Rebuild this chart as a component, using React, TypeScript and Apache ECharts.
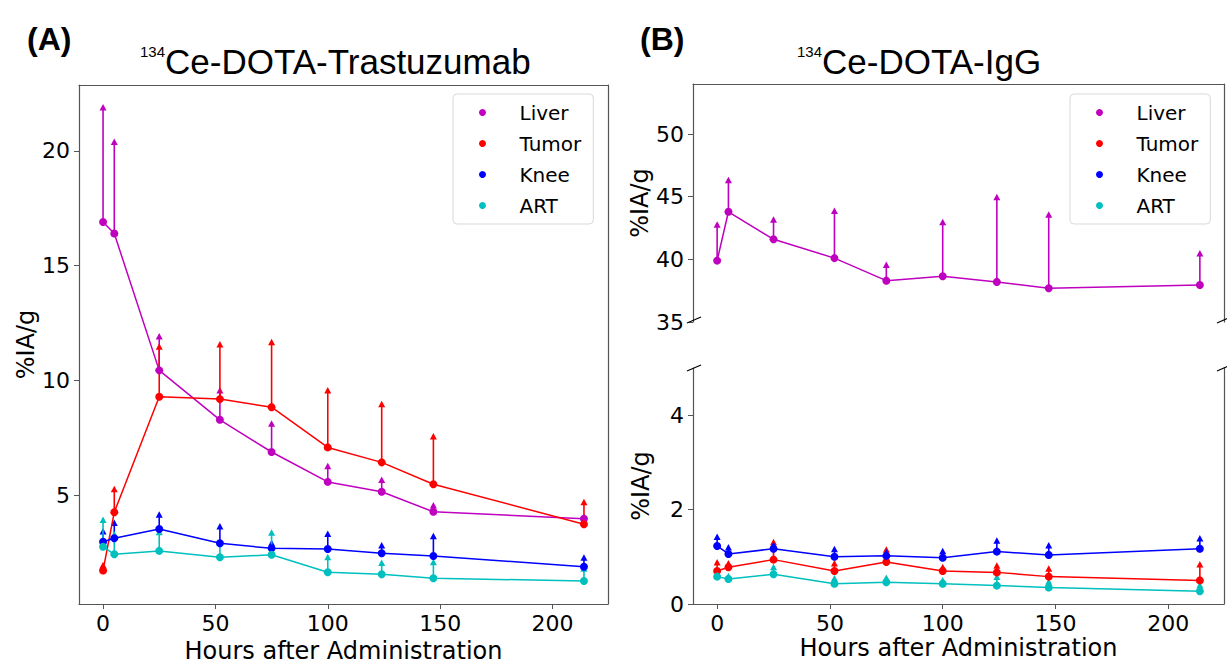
import React, { useEffect, useRef } from "react";
import * as echarts from "echarts";

// ---------- data ----------
const hours = [0, 5, 25, 52, 75, 100, 124, 147, 214];
const organs = ["Liver", "Tumor", "Knee", "ART"];

// (A) 134Ce-DOTA-Trastuzumab  (%IA/g, mean and upper error limit)
const trasLiver = [16.9, 16.4, 10.45, 8.3, 6.9, 5.6, 5.17, 4.3, 4.0];
const trasLiverUp = [21.9, 20.4, 11.95, 9.6, 8.15, 6.3, 5.7, 4.6, 4.1];
const trasTumor = [1.75, 4.28, 9.3, 9.2, 8.85, 7.1, 6.45, 5.5, 3.76];
const trasTumorUp = [2.0, 5.3, 11.5, 11.6, 11.7, 9.6, 9.0, 7.6, 4.74];
const trasKnee = [3.0, 3.15, 3.55, 2.93, 2.71, 2.68, 2.5, 2.38, 1.91];
const trasKneeUp = [3.47, 3.83, 4.19, 3.68, 2.95, 3.36, 2.86, 3.26, 2.32];
const trasArt = [2.78, 2.45, 2.6, 2.32, 2.43, 1.67, 1.58, 1.41, 1.29];
const trasArtUp = [3.97, 3.33, 3.43, 2.96, 3.41, 2.35, 2.09, 2.13, 1.84];

// (B) 134Ce-DOTA-IgG
const iggLiver = [39.9, 43.8, 41.6, 40.1, 38.3, 38.65, 38.2, 37.7, 37.95];
const iggLiverUp = [42.8, 46.35, 43.2, 43.9, 39.6, 43.0, 45.0, 43.6, 40.5];
const iggTumor = [0.7, 0.78, 0.94, 0.7, 0.89, 0.7, 0.67, 0.58, 0.5];
const iggTumorUp = [0.89, 0.87, 1.32, 0.87, 1.16, 0.79, 0.82, 0.76, 0.85];
const iggKnee = [1.23, 1.06, 1.17, 1.0, 1.02, 0.98, 1.11, 1.04, 1.17];
const iggKneeUp = [1.43, 1.21, 1.26, 1.17, 1.1, 1.13, 1.35, 1.25, 1.4];
const iggArt = [0.58, 0.53, 0.63, 0.43, 0.46, 0.43, 0.39, 0.35, 0.27];
const iggArtUp = [0.74, 0.6, 0.79, 0.55, 0.56, 0.51, 0.58, 0.48, 0.41];

// tick labels
const xTicks = [0, 50, 100, 150, 200];
const yTicksA = [5, 10, 15, 20];
const yTicksBUpper = [35, 40, 45, 50];
const yTicksBLower = [0, 2, 4];

// ---------- styling ----------
const COLORS: Record<string, string> = {
  Liver: "#bf00bf",
  Tumor: "#ff0000",
  Knee: "#0000ff",
  ART: "#00bfbf",
};
const FONT = '"DejaVu Sans", sans-serif';
const TFONT = '"Liberation Sans", Arial, sans-serif';
const SPINE = "#555555";

function lineSeries(name: string, ys: number[], xi: number, yi: number) {
  const color = COLORS[name];
  return {
    type: "line",
    name,
    xAxisIndex: xi,
    yAxisIndex: yi,
    data: hours.map((x, i) => [x, ys[i]]),
    symbol: "circle",
    symbolSize: 8,
    showSymbol: true,
    itemStyle: { color },
    lineStyle: { color, width: 1.5 },
    emphasis: { disabled: true },
    silent: true,
    z: 3,
  };
}

function errSeries(name: string, ys: number[], ups: number[], xi: number, yi: number) {
  const color = COLORS[name];
  return {
    type: "custom",
    name: name + " error",
    xAxisIndex: xi,
    yAxisIndex: yi,
    data: hours.map((x, i) => [x, ys[i], ups[i]]),
    encode: { x: 0, y: [1, 2] },
    silent: true,
    z: 3,
    renderItem: (params: any, api: any) => {
      const p0 = api.coord([api.value(0), api.value(1)]);
      const p1 = api.coord([api.value(0), api.value(2)]);
      return {
        type: "group",
        children: [
          {
            type: "line",
            shape: { x1: p0[0], y1: p0[1], x2: p1[0], y2: p1[1] },
            style: { stroke: color, lineWidth: 1.6 },
          },
          {
            type: "polygon",
            shape: {
              points: [
                [p1[0] - 3.5, p1[1] + 3.5],
                [p1[0] + 3.5, p1[1] + 3.5],
                [p1[0], p1[1] - 3],
              ],
            },
            style: { fill: color },
          },
        ],
      };
    },
  };
}

function xAxisMain(gridIndex: number) {
  return {
    type: "value",
    gridIndex,
    min: -10.7,
    max: 224.7,
    name: "Hours after Administration",
    nameLocation: "middle",
    nameGap: 32,
    nameTextStyle: { fontFamily: FONT, fontSize: 24, color: "#000" },
    axisLine: { show: true, onZero: false, lineStyle: { color: SPINE, width: 1.2 } },
    axisTick: { show: true, length: 5, customValues: xTicks, lineStyle: { color: SPINE, width: 1 } },
    axisLabel: { show: true, customValues: xTicks, fontFamily: FONT, fontSize: 22, color: "#000", margin: 8 },
    splitLine: { show: false },
  };
}

function xAxisSpine(gridIndex: number, position: string, showLine: boolean) {
  return {
    type: "value",
    gridIndex,
    position,
    min: -10.7,
    max: 224.7,
    axisLine: { show: showLine, onZero: false, lineStyle: { color: SPINE, width: 1.2 } },
    axisTick: { show: false },
    axisLabel: { show: false },
    splitLine: { show: false },
  };
}

function yAxisMain(gridIndex: number, min: number, max: number, ticks: number[]) {
  return {
    type: "value",
    gridIndex,
    min,
    max,
    name: "%IA/g",
    nameLocation: "middle",
    nameGap: 40,
    nameTextStyle: { fontFamily: FONT, fontSize: 24, color: "#000" },
    axisLine: { show: true, onZero: false, lineStyle: { color: SPINE, width: 1.2 } },
    axisTick: { show: true, length: 5, customValues: ticks, lineStyle: { color: SPINE, width: 1 } },
    axisLabel: { show: true, customValues: ticks, fontFamily: FONT, fontSize: 22, color: "#000", margin: 9 },
    splitLine: { show: false },
  };
}

function yAxisRight(gridIndex: number, min: number, max: number) {
  return {
    type: "value",
    gridIndex,
    position: "right",
    min,
    max,
    axisLine: { show: true, onZero: false, lineStyle: { color: SPINE, width: 1.2 } },
    axisTick: { show: false },
    axisLabel: { show: false },
    splitLine: { show: false },
  };
}

function legendAt(left: number) {
  return {
    left,
    top: 94,
    orient: "vertical",
    data: organs,
    icon: "circle",
    itemWidth: 20,
    itemHeight: 7,
    itemGap: 0,
    padding: [3, 12, 3, 26],
    backgroundColor: "rgba(255,255,255,0.8)",
    borderColor: "#d9d9d9",
    borderWidth: 1,
    borderRadius: 4,
    selectedMode: false,
    textStyle: { fontFamily: FONT, fontSize: 20, color: "#000", lineHeight: 31, padding: [0, 0, 0, 22] },
  };
}

function titleRich(text: string, left: number) {
  return {
    text: "{s|134}{m|" + text + "}",
    left,
    top: 44,
    padding: 0,
    textStyle: {
      fontWeight: "normal",
      rich: {
        s: { fontFamily: TFONT, fontSize: 15, fontWeight: "normal", color: "#000", verticalAlign: "top" },
        m: { fontFamily: TFONT, fontSize: 35, fontWeight: "normal", color: "#000" },
      },
    },
  };
}

function breakMark(cx: number, cy: number, dx: number, dy: number) {
  return {
    type: "line",
    shape: { x1: cx - dx, y1: cy + dy, x2: cx + dx, y2: cy - dy },
    style: { stroke: "#000", lineWidth: 1.2 },
    z: 10,
  };
}

export default function App() {
  const ref = useRef<HTMLDivElement>(null);
  useEffect(() => {
    if (!ref.current) return;
    const chart = echarts.init(ref.current, null, { renderer: "svg" });
    const option: any = {
      animation: false,
      backgroundColor: "#fff",
      title: [
        { text: "(A)", left: 27, top: 23, padding: 0, textStyle: { fontFamily: TFONT, fontWeight: "bold", fontSize: 32, color: "#000" } },
        { text: "(B)", left: 640, top: 23, padding: 0, textStyle: { fontFamily: TFONT, fontWeight: "bold", fontSize: 32, color: "#000" } },
        titleRich("Ce-DOTA-Trastuzumab", 140),
        titleRich("Ce-DOTA-IgG", 797),
      ],
      legend: [legendAt(453), legendAt(1070)],
      grid: [
        { left: 79, top: 85, width: 529, height: 519, outerBoundsMode: "none", containLabel: false },
        { left: 693, top: 84, width: 531, height: 238, outerBoundsMode: "none", containLabel: false },
        { left: 693, top: 368, width: 531, height: 236, outerBoundsMode: "none", containLabel: false },
      ],
      xAxis: [
        xAxisMain(0), // 0: A bottom
        xAxisSpine(0, "top", true), // 1: A top spine
        xAxisSpine(1, "bottom", false), // 2: B upper (no bottom spine)
        xAxisSpine(1, "top", true), // 3: B upper top spine
        xAxisMain(2), // 4: B lower bottom
      ],
      yAxis: [
        yAxisMain(0, 0.29, 22.86, yTicksA), // 0
        yAxisRight(0, 0.29, 22.86), // 1
        yAxisMain(1, 35, 54, yTicksBUpper), // 2
        yAxisRight(1, 35, 54), // 3
        yAxisMain(2, 0, 5, yTicksBLower), // 4
        yAxisRight(2, 0, 5), // 5
      ],
      series: [
        errSeries("Liver", trasLiver, trasLiverUp, 0, 0),
        lineSeries("Liver", trasLiver, 0, 0),
        errSeries("Tumor", trasTumor, trasTumorUp, 0, 0),
        lineSeries("Tumor", trasTumor, 0, 0),
        errSeries("Knee", trasKnee, trasKneeUp, 0, 0),
        lineSeries("Knee", trasKnee, 0, 0),
        errSeries("ART", trasArt, trasArtUp, 0, 0),
        lineSeries("ART", trasArt, 0, 0),

        errSeries("Liver", iggLiver, iggLiverUp, 2, 2),
        lineSeries("Liver", iggLiver, 2, 2),
        errSeries("Tumor", iggTumor, iggTumorUp, 4, 4),
        lineSeries("Tumor", iggTumor, 4, 4),
        errSeries("Knee", iggKnee, iggKneeUp, 4, 4),
        lineSeries("Knee", iggKnee, 4, 4),
        errSeries("ART", iggArt, iggArtUp, 4, 4),
        lineSeries("ART", iggArt, 4, 4),
      ],
      graphic: [
        breakMark(694, 320, 7, 3),
        breakMark(1224, 320, 7, 3),
        breakMark(694, 368, 7, 3),
        breakMark(1224, 368, 7, 3),
      ],
    };
    chart.setOption(option);
    return () => chart.dispose();
  }, []);
  return (
    <div
      ref={ref}
      style={{ position: "fixed", left: 0, top: 0, width: 1227, height: 663, background: "#fff" }}
    />
  );
}
